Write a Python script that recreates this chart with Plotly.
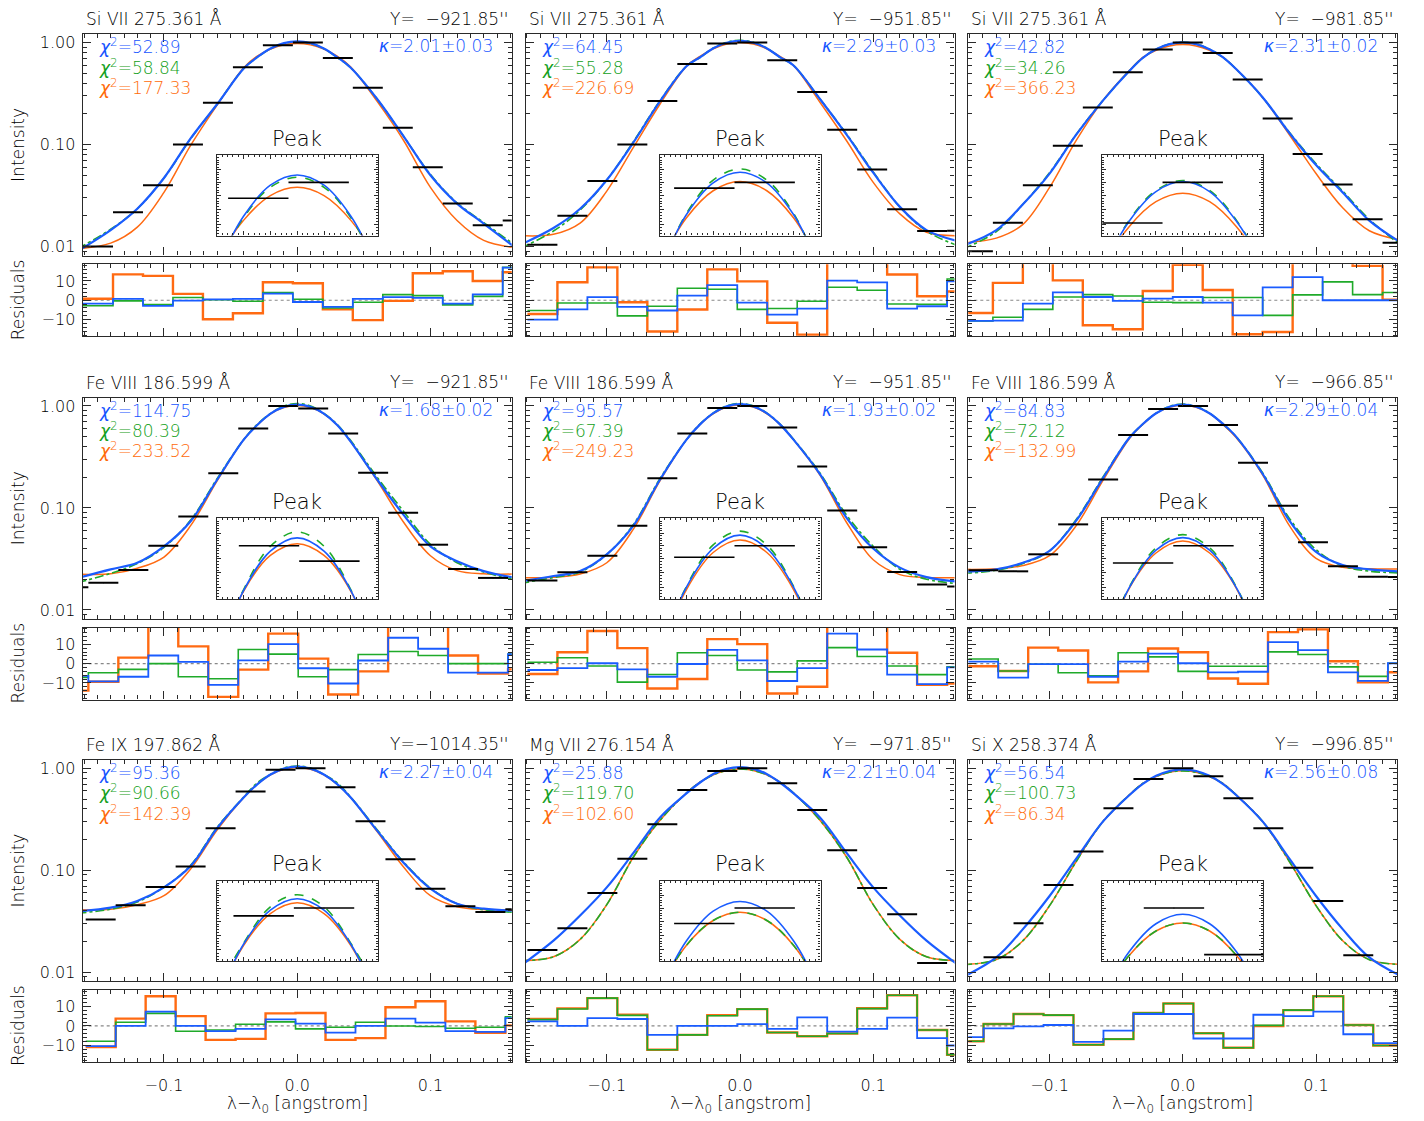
import plotly.graph_objects as go

# ------------------------------------------------------------------ data
LINE_TITLES = ["Si VII 275.361 Å", "Si VII 275.361 Å", "Si VII 275.361 Å",
               "Fe VIII 186.599 Å", "Fe VIII 186.599 Å", "Fe VIII 186.599 Å",
               "Fe IX 197.862 Å", "Mg VII 276.154 Å", "Si X 258.374 Å"]
SLIT_Y = ["Y=\u00a0\u00a0\u2212921.85''", "Y=\u00a0\u00a0\u2212951.85''", "Y=\u00a0\u00a0\u2212981.85''",
          "Y=\u00a0\u00a0\u2212921.85''", "Y=\u00a0\u00a0\u2212951.85''", "Y=\u00a0\u00a0\u2212966.85''",
          "Y=\u22121014.35''", "Y=\u00a0\u00a0\u2212971.85''", "Y=\u00a0\u00a0\u2212996.85''"]
CHI2_BLUE = [52.89, 64.45, 42.82, 114.75, 95.57, 84.83, 95.36, 25.88, 56.54]
CHI2_GREEN = [58.84, 55.28, 34.26, 80.39, 67.39, 72.12, 90.66, 119.70, 100.73]
CHI2_ORANGE = [177.33, 226.69, 366.23, 233.52, 249.23, 132.99, 142.39, 102.60, 86.34]
KAPPA_VAL = [2.01, 2.29, 2.31, 1.68, 1.93, 2.29, 2.27, 2.21, 2.56]
KAPPA_ERR = [0.03, 0.03, 0.02, 0.02, 0.02, 0.04, 0.04, 0.04, 0.08]

BIN_HALF_WIDTH = 0.01125

BIN_CENTERS = [
    [-0.1495, -0.127, -0.1045, -0.082, -0.0595, -0.037, -0.0145, 0.008, 0.0305, 0.053, 0.0755, 0.098, 0.1205, 0.143, 0.1655],
    [-0.1483, -0.1258, -0.1033, -0.0808, -0.0583, -0.0358, -0.0133, 0.0092, 0.0317, 0.0542, 0.0767, 0.0992, 0.1217, 0.1442, 0.1667],
    [-0.1538, -0.1313, -0.1088, -0.0863, -0.0638, -0.0413, -0.0188, 0.0037, 0.0262, 0.0487, 0.0712, 0.0937, 0.1162, 0.1387, 0.1612],
    [-0.168, -0.1455, -0.123, -0.1005, -0.078, -0.0555, -0.033, -0.0105, 0.012, 0.0345, 0.057, 0.0795, 0.102, 0.1245, 0.147, 0.1695],
    [-0.1483, -0.1258, -0.1033, -0.0808, -0.0583, -0.0358, -0.0133, 0.0092, 0.0317, 0.0542, 0.0767, 0.0992, 0.1217, 0.1442, 0.1667],
    [-0.1498, -0.1273, -0.1048, -0.0823, -0.0598, -0.0373, -0.0148, 0.0077, 0.0302, 0.0527, 0.0752, 0.0977, 0.1202, 0.1427, 0.1652],
    [-0.1475, -0.125, -0.1025, -0.08, -0.0575, -0.035, -0.0125, 0.01, 0.0325, 0.055, 0.0775, 0.1, 0.1225, 0.145, 0.1675],
    [-0.1483, -0.1258, -0.1033, -0.0808, -0.0583, -0.0358, -0.0133, 0.0092, 0.0317, 0.0542, 0.0767, 0.0992, 0.1217, 0.1442, 0.1667],
    [-0.1608, -0.1383, -0.1158, -0.0933, -0.0708, -0.0483, -0.0258, -0.0033, 0.0192, 0.0417, 0.0642, 0.0867, 0.1092, 0.1317, 0.1542],
]

INTENSITY = [
    [0.010, 0.0217, 0.040, 0.100, 0.257, 0.574, 0.94, 1.00, 0.708, 0.360, 0.146, 0.0598, 0.0264, 0.0162, 0.018],
    [0.0104, 0.0201, 0.0439, 0.100, 0.267, 0.618, 0.978, 1.00, 0.671, 0.327, 0.140, 0.0571, 0.0232, 0.0142, 0.0143],
    [0.0090, 0.0171, 0.040, 0.0974, 0.231, 0.513, 0.854, 1.00, 0.792, 0.434, 0.180, 0.0807, 0.0407, 0.0185, 0.0109],
    [0.0167, 0.0185, 0.0246, 0.0426, 0.0826, 0.219, 0.600, 1.00, 0.942, 0.536, 0.221, 0.0897, 0.0436, 0.0252, 0.0206, None],
    [0.0194, 0.0234, 0.034, 0.0669, 0.196, 0.536, 0.956, 1.00, 0.614, 0.255, 0.0945, 0.0411, 0.0236, 0.0178, 0.017],
    [0.0245, 0.0239, 0.0351, 0.069, 0.190, 0.520, 0.935, 1.00, 0.652, 0.277, 0.105, 0.046, 0.0268, 0.0212, 0.021],
    [0.0330, 0.0453, 0.0685, 0.109, 0.259, 0.591, 0.970, 1.00, 0.652, 0.303, 0.128, 0.0659, 0.0443, 0.0390, 0.0414],
    [0.0165, 0.027, 0.0598, 0.130, 0.283, 0.614, 0.942, 1.00, 0.713, 0.391, 0.157, 0.0669, 0.0370, 0.0123, 0.0075],
    [0.0065, 0.0140, 0.0302, 0.0716, 0.153, 0.406, 0.787, 1.00, 0.835, 0.508, 0.259, 0.106, 0.0499, 0.0147, 0.0070],
]

RESID_ORANGE = [
    [0.8, 13.4, 12.6, 3.3, -9.8, -6.7, 9.3, 8.8, -4.7, -10.3, -0.3, 14, 15, 10, 14.5],
    [-7.1, 9.3, 17, -1, -16.2, -4.8, 16, 9.8, -11.6, -17.8, 22, 25, 13.3, 2.1, 4.5],
    [-6.6, 9, 22, 10.3, -12.9, -15, 4.8, 18.3, 5.3, -17.6, -16.4, 22, 22, 17.8, 0.3],
    [-14, -9.4, 3.1, 22, 8.9, -17.2, -3.1, 15.5, 2.6, -16, -4, 22, 22, 4.2, -5.2, -3],
    [-5.4, 5.9, 16.9, 8, -12.9, -8, 12.7, 10.1, -15.5, -12, 22, 22, 5.6, -11, -10.3],
    [-1.4, -3.8, 8.3, 6.8, -9.7, -4, 7.8, 5.9, -7.7, -10.4, 16.3, 17.7, 1.2, -9.7, -4.5],
    [-10.9, 3.8, 15.4, 5.1, -7.2, -6.7, 6.5, 6.7, -7.2, -6.3, 9.7, 12.8, 2.4, -3.6, 0.3],
    [3.6, 9.1, 14.4, 5.8, -12.3, -4.6, 5.6, 8.7, -3.4, -5.3, -3.9, 9.2, 15.9, -2.1, -14.9],
    [-7.9, 1, 6.2, 5.6, -9.7, -6.8, 6.7, 11.6, -3.8, -11.3, 0, 8.2, 15.4, 0.5, -10.1],
]
RESID_GREEN = [
    [-2.8, -0.3, -2.2, 1.4, 0.3, -0.5, 4, 0.5, -4, -1, 2.9, 2.4, -2.4, 2, 17],
    [-5.3, -1.4, -1.4, -8.1, -3.1, 6.2, 5.7, -4.7, -4.3, -0.5, 6.7, 5.2, -1.9, -2.1, 11],
    [-10.7, -8.8, -4.7, 1.7, 2.9, 2.2, -1, -1.2, 1.4, 1.4, -7.8, 2.8, 9.5, 2.9, 4],
    [-7.1, -4.7, -3, 0, -6.8, -7.8, 7.3, 4.9, -6.8, -3.1, 4.7, 6.3, 4.2, 0, 0, 4.9],
    [0.7, 3, -1.2, -9.6, -5.6, 5.6, 4.2, -3.3, -4.3, 1.4, 8.3, 3.7, -1.2, -5.7, -1.7],
    [2.4, -3.8, -0.3, -4.7, -6.3, 5.6, 3.5, -4, -1.4, -1.4, 6.1, 4.7, -1.7, -6.6, 0.2],
    [-7.9, 1.9, 6.5, -2.7, -2.1, 0.9, 2.1, -1.5, -0.7, 1.9, 0, -0.3, -1.2, -0.7, 4.8],
    [3.3, 8.8, 14.4, 5.5, -12.3, -4.6, 5.3, 8.7, -3.4, -5.3, -3.9, 9.0, 15.9, -2.1, -14.9],
    [-7.9, 1, 6.2, 5.6, -9.7, -6.8, 6.7, 11.6, -3.8, -11.3, 0.3, 8.2, 15.4, 0.5, -10.1],
]
RESID_BLUE = [
    [-1.7, 0.7, -2.9, -0.2, 0.5, 0.7, 3.4, -0.9, -3.4, 0.7, 1.6, 1.2, -1.7, 3.1, 16.9],
    [-10, -4.7, 1.6, -3.4, -5.3, 2.4, 7.8, -1.2, -7.4, -4.3, 10.2, 9.3, -4.3, -3.1, 9.8],
    [-10.7, -10.5, -1.7, 4.1, 1.7, -0.3, 0.9, 1.7, -1.2, -7.8, 6.7, 12, 0, 0, 0],
    [-6.3, -9.2, -6.8, 4.2, 0.9, -11, 1.7, 10.1, -2.4, -10.3, 1.6, 13.4, 7.7, -4.7, -4.7, 4.9],
    [-3.3, -2.3, 0.2, -3, -6.8, -0.2, 7.1, 1.7, -9, -2.3, 15.5, 7.3, -5.7, -10.6, -1.9],
    [1, -7.3, -0.3, -0.3, -6.8, 1, 5.2, 0.2, -4.5, -4.2, 11.1, 7, -4.5, -8.9, 0.2],
    [-10.4, 0, 7.4, 0, -2.7, -1.5, 3.4, 1.2, -3.4, 0, 3.8, 1.7, -2.7, -3.1, 4.1],
    [2.4, 0, 4.1, 3.6, -4.6, 0, 0, 1, -1.5, 4.4, -2.9, -1.5, 4.3, -6.3, -10.1],
    [-5.8, -1.2, -0.2, 0.5, -8.2, -2.4, 6.2, 6.2, -6.5, -6.5, 5.8, 5.1, 7.4, -4.3, -8.9],
]

CURVE_X = [-0.165, -0.14, -0.12, -0.10, -0.08, -0.06, -0.04, -0.03, -0.02, -0.01, 0.0,
           0.01, 0.02, 0.03, 0.04, 0.06, 0.08, 0.10, 0.12, 0.14, 0.165]
FIT_BLUE = [
    [0.009, 0.0145, 0.0235, 0.047, 0.115, 0.25, 0.56, 0.72, 0.877, 0.989, 1.029, 0.989, 0.877, 0.72, 0.57, 0.28, 0.12, 0.050, 0.0264, 0.0168, 0.0095],
    [0.0104, 0.0152, 0.0235, 0.045, 0.105, 0.267, 0.59, 0.718, 0.882, 0.998, 1.040, 0.998, 0.882, 0.72, 0.60, 0.28, 0.125, 0.053, 0.0245, 0.0145, 0.0112],
    [0.0102, 0.0145, 0.026, 0.052, 0.125, 0.27, 0.53, 0.71, 0.86, 0.965, 1.003, 0.965, 0.86, 0.72, 0.55, 0.29, 0.13, 0.063, 0.034, 0.018, 0.0107],
    [0.0205, 0.025, 0.029, 0.042, 0.074, 0.19, 0.47, 0.65, 0.840, 0.979, 1.031, 0.979, 0.840, 0.65, 0.45, 0.19, 0.085, 0.042, 0.030, 0.024, 0.0205],
    [0.019, 0.0215, 0.024, 0.035, 0.067, 0.19, 0.47, 0.66, 0.851, 0.990, 1.042, 0.990, 0.851, 0.66, 0.47, 0.215, 0.08, 0.040, 0.026, 0.021, 0.0188],
    [0.0237, 0.025, 0.029, 0.038, 0.075, 0.195, 0.49, 0.665, 0.849, 0.983, 1.032, 0.983, 0.849, 0.67, 0.50, 0.215, 0.075, 0.037, 0.0275, 0.025, 0.0237],
    [0.0395, 0.043, 0.050, 0.068, 0.11, 0.26, 0.52, 0.697, 0.869, 0.992, 1.037, 0.992, 0.869, 0.70, 0.52, 0.245, 0.118, 0.066, 0.047, 0.042, 0.040],
    [0.0115, 0.0204, 0.036, 0.068, 0.148, 0.33, 0.57, 0.726, 0.880, 0.988, 1.026, 0.988, 0.880, 0.726, 0.57, 0.33, 0.148, 0.068, 0.036, 0.0204, 0.0115],
    [0.009, 0.014, 0.0265, 0.056, 0.13, 0.30, 0.548, 0.705, 0.844, 0.941, 0.976, 0.941, 0.844, 0.705, 0.548, 0.30, 0.13, 0.056, 0.0265, 0.014, 0.009],
]
FIT_GREEN = [
    [0.0095, 0.0148, 0.0235, 0.047, 0.114, 0.25, 0.56, 0.715, 0.872, 0.981, 1.020, 0.981, 0.872, 0.715, 0.57, 0.28, 0.12, 0.051, 0.0268, 0.0172, 0.0100],
    [0.0096, 0.0142, 0.0228, 0.045, 0.107, 0.27, 0.59, 0.713, 0.886, 1.009, 1.053, 1.009, 0.886, 0.715, 0.60, 0.28, 0.127, 0.054, 0.0245, 0.0142, 0.0100],
    [0.0095, 0.0140, 0.026, 0.053, 0.126, 0.27, 0.53, 0.71, 0.863, 0.969, 1.007, 0.969, 0.863, 0.72, 0.55, 0.29, 0.132, 0.065, 0.035, 0.0185, 0.0100],
    [0.0185, 0.0228, 0.0285, 0.041, 0.076, 0.195, 0.47, 0.66, 0.843, 0.998, 1.055, 0.998, 0.843, 0.66, 0.46, 0.20, 0.092, 0.044, 0.029, 0.0235, 0.0195],
    [0.0182, 0.0208, 0.0235, 0.035, 0.069, 0.195, 0.47, 0.665, 0.853, 1.003, 1.058, 1.003, 0.853, 0.665, 0.475, 0.22, 0.085, 0.042, 0.025, 0.020, 0.0180],
    [0.0228, 0.0245, 0.0285, 0.038, 0.077, 0.20, 0.49, 0.665, 0.851, 0.992, 1.044, 0.992, 0.851, 0.67, 0.50, 0.22, 0.079, 0.039, 0.027, 0.024, 0.0230],
    [0.038, 0.0415, 0.049, 0.068, 0.112, 0.265, 0.525, 0.72, 0.872, 1.005, 1.053, 1.005, 0.872, 0.72, 0.525, 0.25, 0.12, 0.067, 0.047, 0.041, 0.0385],
    [0.013, 0.0142, 0.021, 0.046, 0.135, 0.31, 0.575, 0.73, 0.865, 0.953, 0.984, 0.953, 0.865, 0.73, 0.575, 0.31, 0.135, 0.046, 0.021, 0.0142, 0.013],
    [0.0119, 0.0133, 0.0204, 0.045, 0.122, 0.30, 0.55, 0.711, 0.832, 0.915, 0.944, 0.915, 0.832, 0.711, 0.55, 0.30, 0.122, 0.045, 0.0204, 0.0133, 0.0119],
]
FIT_ORANGE = [
    [0.0095, 0.0108, 0.0155, 0.034, 0.098, 0.245, 0.57, 0.736, 0.863, 0.950, 0.981, 0.950, 0.863, 0.736, 0.58, 0.265, 0.109, 0.038, 0.018, 0.0115, 0.0097],
    [0.0128, 0.0132, 0.0170, 0.035, 0.094, 0.25, 0.59, 0.731, 0.871, 0.968, 1.003, 0.968, 0.871, 0.731, 0.60, 0.26, 0.109, 0.0426, 0.0209, 0.0138, 0.0128],
    [0.0109, 0.0121, 0.0165, 0.038, 0.110, 0.27, 0.535, 0.716, 0.842, 0.928, 0.959, 0.928, 0.842, 0.72, 0.55, 0.29, 0.125, 0.052, 0.024, 0.0143, 0.0115],
    [0.0225, 0.0226, 0.0256, 0.033, 0.067, 0.185, 0.47, 0.65, 0.838, 0.963, 1.008, 0.963, 0.838, 0.65, 0.45, 0.185, 0.072, 0.034, 0.0243, 0.0226, 0.0225],
    [0.0207, 0.0209, 0.0225, 0.029, 0.062, 0.185, 0.47, 0.66, 0.843, 0.974, 1.022, 0.974, 0.843, 0.66, 0.47, 0.21, 0.072, 0.031, 0.0222, 0.0208, 0.0207],
    [0.0250, 0.0253, 0.0272, 0.034, 0.067, 0.185, 0.48, 0.66, 0.847, 0.972, 1.018, 0.972, 0.847, 0.66, 0.49, 0.21, 0.067, 0.032, 0.0262, 0.0253, 0.0252],
    [0.041, 0.0415, 0.046, 0.0563, 0.103, 0.25, 0.52, 0.70, 0.865, 0.979, 1.021, 0.979, 0.865, 0.70, 0.52, 0.24, 0.107, 0.0563, 0.044, 0.0413, 0.041],
    [0.013, 0.0142, 0.021, 0.046, 0.135, 0.31, 0.575, 0.73, 0.865, 0.953, 0.984, 0.953, 0.865, 0.73, 0.575, 0.31, 0.135, 0.046, 0.021, 0.0142, 0.013],
    [0.0119, 0.0133, 0.0204, 0.045, 0.122, 0.30, 0.55, 0.711, 0.832, 0.915, 0.944, 0.915, 0.832, 0.711, 0.55, 0.30, 0.122, 0.045, 0.0204, 0.0133, 0.0119],
]

X_TICKS = [-0.1, 0.0, 0.1]
X_TICKTEXT = ["\u22120.1", "0.0", "0.1"]
Y_TICKS = [0.01, 0.1, 1.0]
Y_TICKTEXT = ["0.01", "0.10", "1.00"]
R_TICKS = [-10, 0, 10]
R_TICKTEXT = ["\u221210", "0", "10"]

# ------------------------------------------------------------------ style / layout
W, H = 1424, 1121
FONT = "DejaVu Sans"
FW = 300
TEXT = "#000000"
FRAME = "#2a2a2a"
BLUE, GREEN, ORANGE = "#1a5cff", "#1faa2a", "#ff6a12"
BLUE_T, GREEN_T, ORANGE_T = "#1554ff", "#12a020", "#ff6a08"

COL_X0 = [82.7, 525.5, 968.3]
PW = 429.0
ROW_T = [33.3, 397.3, 760.3]
MH = 221.7
RES_OFF = 230.5
RH = 72.0
INSET_DX0, INSET_DX1 = 134.0, 295.0
INSET_DY0, INSET_DY1 = 121.0, 201.7


def fx(px):
    return px / W


def fy(px):
    return 1 - px / H


def ref(k, letter):
    return letter if k == 1 else f"{letter}{k}"


def axkey(k, letter):
    return f"{letter}axis" if k == 1 else f"{letter}axis{k}"


def tfont(size, color=TEXT):
    return dict(family=FONT, size=size, color=color, weight=FW)


def frame_axis(**kw):
    base = dict(showline=True, linecolor=FRAME, linewidth=1.3, mirror="allticks",
                ticks="inside", tickcolor=FRAME, tickwidth=1, showgrid=False,
                zeroline=False, tickfont=tfont(16))
    base.update(kw)
    return base


log_minor = [m * 10.0 ** e for e in (-3, -2, -1) for m in range(2, 10)]
inset_major = [0.85, 0.9, 0.95, 1.0, 1.05]
inset_minor = [0.82 + 0.01 * i for i in range(30)]

fig = go.Figure()
layout = dict(width=W, height=H, margin=dict(l=0, r=0, t=0, b=0),
              paper_bgcolor="white", plot_bgcolor="#ffffff", showlegend=False)
annotations = []
shapes = []

for p in range(9):
    r, c = divmod(p, 3)
    x0 = COL_X0[c]
    t = ROW_T[r]
    m, s, n = 3 * p + 1, 3 * p + 2, 3 * p + 3
    centers = BIN_CENTERS[p]

    # ---- main panel
    for yv, col, dash, wd in ((FIT_ORANGE[p], ORANGE, "solid", 1.5),
                              (FIT_GREEN[p], GREEN, "dashdot", 1.6),
                              (FIT_BLUE[p], BLUE, "solid", 2.2)):
        fig.add_trace(go.Scatter(x=CURVE_X, y=yv, mode="lines",
                                 line=dict(color=col, width=wd, dash=dash, shape="spline"),
                                 xaxis=ref(m, "x"), yaxis=ref(m, "y"), hoverinfo="skip"))
    fig.add_trace(go.Scatter(x=centers, y=INTENSITY[p], mode="markers",
                             marker=dict(size=1, color="black"),
                             error_x=dict(type="constant", value=BIN_HALF_WIDTH, width=0,
                                          thickness=2, color="black"),
                             xaxis=ref(m, "x"), yaxis=ref(m, "y"), hoverinfo="skip"))

    # ---- residual panel
    edges = [cc - BIN_HALF_WIDTH for cc in centers] + [centers[-1] + BIN_HALF_WIDTH]
    for res, col, wd in ((RESID_ORANGE[p], ORANGE, 2.4),
                         (RESID_GREEN[p], GREEN, 1.6),
                         (RESID_BLUE[p], BLUE, 1.8)):
        fig.add_trace(go.Scatter(x=edges, y=list(res) + [res[-1]], mode="lines",
                                 line=dict(color=col, width=wd, shape="hv"),
                                 xaxis=ref(s, "x"), yaxis=ref(s, "y"), hoverinfo="skip"))
    shapes.append(dict(type="line", xref=f"{ref(s, 'x')} domain", x0=0, x1=1,
                       yref=ref(s, "y"), y0=0, y1=0, layer="below",
                       line=dict(color="#888888", width=1.2, dash="dot")))

    # ---- inset (peak)
    for yv, col, dash, wd in ((FIT_ORANGE[p], ORANGE, "solid", 1.5),
                              (FIT_GREEN[p], GREEN, "dash", 1.6),
                              (FIT_BLUE[p], BLUE, "solid", 1.6)):
        fig.add_trace(go.Scatter(x=CURVE_X, y=yv, mode="lines",
                                 line=dict(color=col, width=wd, dash=dash, shape="spline"),
                                 xaxis=ref(n, "x"), yaxis=ref(n, "y"), hoverinfo="skip"))
    fig.add_trace(go.Scatter(x=centers, y=INTENSITY[p], mode="markers",
                             marker=dict(size=1, color="black"),
                             error_x=dict(type="constant", value=BIN_HALF_WIDTH, width=0,
                                          thickness=1.6, color="black"),
                             xaxis=ref(n, "x"), yaxis=ref(n, "y"), hoverinfo="skip"))

    xdom = [fx(x0), fx(x0 + PW)]
    xminor = dict(ticks="inside", ticklen=4, dtick=0.01, tick0=0, tickcolor=FRAME)
    layout[axkey(m, "x")] = frame_axis(domain=xdom, range=[-0.161, 0.161], anchor=ref(m, "y"),
                                       tickmode="array", tickvals=X_TICKS, ticktext=X_TICKTEXT,
                                       ticklen=8, showticklabels=False, minor=xminor)
    layout[axkey(m, "y")] = frame_axis(domain=[fy(t + MH), fy(t)], type="log",
                                       range=[-2.088, 0.082], anchor=ref(m, "x"),
                                       tickmode="array", tickvals=Y_TICKS, ticktext=Y_TICKTEXT,
                                       ticklen=8, showticklabels=(c == 0), ticklabelstandoff=3,
                                       minor=dict(ticks="inside", ticklen=4, tickmode="array",
                                                  tickvals=log_minor, tickcolor=FRAME))
    layout[axkey(s, "x")] = frame_axis(domain=xdom, range=[-0.161, 0.161], anchor=ref(s, "y"),
                                       tickmode="array", tickvals=X_TICKS, ticktext=X_TICKTEXT,
                                       ticklen=8, showticklabels=(r == 2), ticklabelstandoff=9,
                                       minor=xminor)
    layout[axkey(s, "y")] = frame_axis(domain=[fy(t + RES_OFF + RH), fy(t + RES_OFF)],
                                       range=[-18.6, 18.6], anchor=ref(s, "x"),
                                       tickmode="array", tickvals=R_TICKS, ticktext=R_TICKTEXT,
                                       ticklen=8, showticklabels=(c == 0), ticklabelstandoff=3,
                                       minor=dict(ticks="inside", ticklen=4, dtick=2, tick0=0,
                                                  tickcolor=FRAME))
    layout[axkey(n, "x")] = frame_axis(domain=[fx(x0 + INSET_DX0), fx(x0 + INSET_DX1)],
                                       range=[-0.03, 0.03], anchor=ref(n, "y"), linewidth=1.2,
                                       tickmode="array", tickvals=[-0.02, -0.01, 0.0, 0.01, 0.02],
                                       ticklen=4, showticklabels=False,
                                       minor=dict(ticks="inside", ticklen=2, dtick=0.002, tick0=0,
                                                  tickcolor=FRAME))
    layout[axkey(n, "y")] = frame_axis(domain=[fy(t + INSET_DY1), fy(t + INSET_DY0)], type="log",
                                       range=[-0.0896, 0.046], anchor=ref(n, "x"), linewidth=1.2,
                                       tickmode="array", tickvals=inset_major, ticklen=4,
                                       showticklabels=False,
                                       minor=dict(ticks="inside", ticklen=2, tickmode="array",
                                                  tickvals=inset_minor, tickcolor=FRAME))

    # ---- texts
    annotations.append(dict(text=LINE_TITLES[p], x=fx(x0 + 1), y=fy(t - 15.5), xref="paper", yref="paper",
                            xanchor="left", yanchor="middle", showarrow=False, font=tfont(17)))
    annotations.append(dict(text=SLIT_Y[p], x=fx(x0 + PW - 1), y=fy(t - 15.5), xref="paper", yref="paper",
                            xanchor="right", yanchor="middle", showarrow=False, font=tfont(17)))
    for i, (val, col) in enumerate(((CHI2_BLUE[p], BLUE_T), (CHI2_GREEN[p], GREEN_T),
                                    (CHI2_ORANGE[p], ORANGE_T))):
        annotations.append(dict(text=f"<i>χ</i><sup>2</sup>={val:.2f}", x=fx(x0 + 14), y=fy(t + 12 + 20.5 * i),
                                xref="paper", yref="paper", xanchor="left", yanchor="middle",
                                showarrow=False, font=tfont(17, col)))
    annotations.append(dict(text=f"<i>κ</i>={KAPPA_VAL[p]:.2f}±{KAPPA_ERR[p]:.2f}",
                            x=fx(x0 + PW - 17), y=fy(t + 12), xref="paper", yref="paper",
                            xanchor="right", yanchor="middle", showarrow=False, font=tfont(17, BLUE_T)))
    annotations.append(dict(text="Peak", x=fx(x0 + PW / 2), y=fy(t + 104.5), xref="paper", yref="paper",
                            xanchor="center", yanchor="middle", showarrow=False, font=tfont(21)))

for r in range(3):
    t = ROW_T[r]
    annotations.append(dict(text="Intensity", x=fx(18), y=fy(t + MH / 2), xref="paper", yref="paper",
                            textangle=-90, xanchor="center", yanchor="middle", showarrow=False,
                            font=tfont(17)))
    annotations.append(dict(text="Residuals", x=fx(18), y=fy(t + RES_OFF + RH / 2), xref="paper",
                            yref="paper", textangle=-90, xanchor="center", yanchor="middle",
                            showarrow=False, font=tfont(17)))
for c in range(3):
    annotations.append(dict(text="λ\u2212λ<sub>0</sub> [angstrom]", x=fx(COL_X0[c] + PW / 2), y=fy(1105),
                            xref="paper", yref="paper", xanchor="center", yanchor="middle",
                            showarrow=False, font=tfont(17)))

layout["annotations"] = annotations
layout["shapes"] = shapes
fig.update_layout(**layout)
fig.write_html("out.html", config={"displayModeBar": False},
               post_script="document.body.style.margin='0px';")
